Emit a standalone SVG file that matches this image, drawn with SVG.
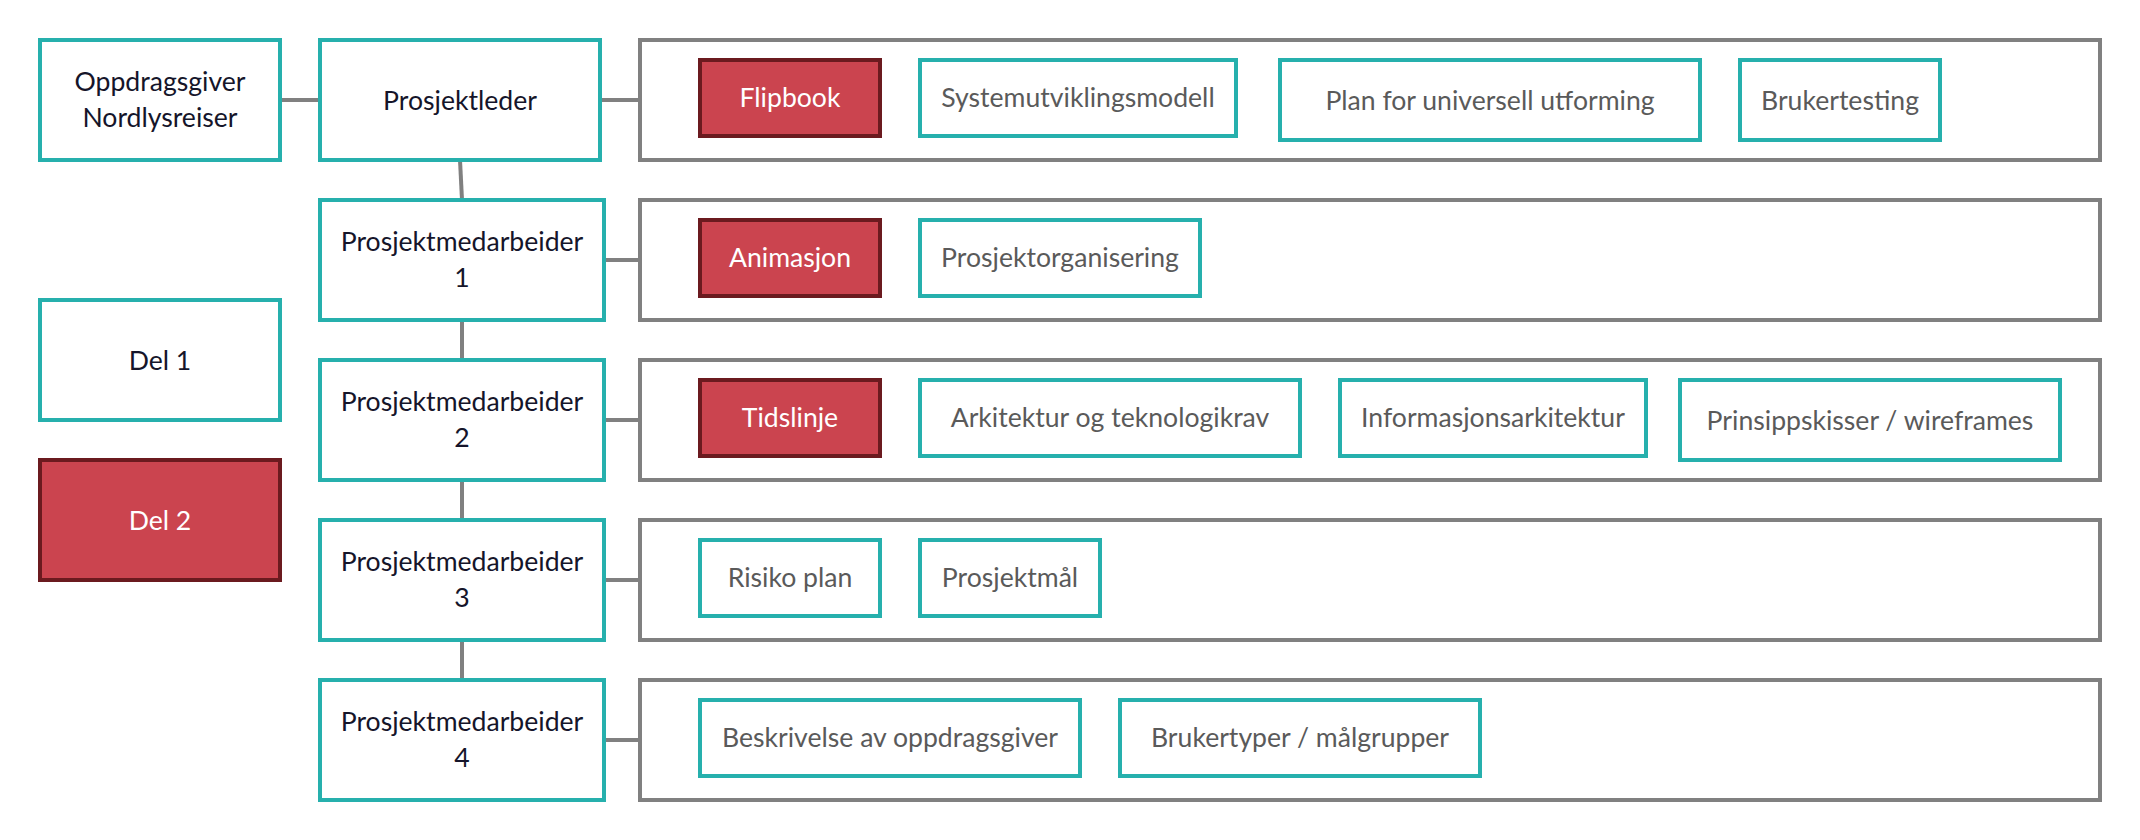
<svg xmlns="http://www.w3.org/2000/svg" width="2140" height="840" viewBox="0 0 2140 840">
<style>
.node{fill:#fff;stroke:#26b0ad;stroke-width:4}
.red{fill:#cb444f;stroke:#6b1a1f;stroke-width:4}
.row{fill:#fff;stroke:#808080;stroke-width:4}
.item{fill:#fff;stroke:#26b0ad;stroke-width:4}
.conn line{stroke:#808080;stroke-width:4}
text{font-family:Lato,"Liberation Sans",sans-serif;font-size:26.6px;text-anchor:middle}
.t{fill:#15152a}
.g{fill:#5a5a5a}
.w{fill:#fff}
</style>
<rect width="2140" height="840" fill="#fff"/>
<g id="connectors" class="conn">
<line x1="280" y1="100" x2="320" y2="100"/>
<line x1="600" y1="100" x2="640" y2="100"/>
<line x1="460" y1="160" x2="462" y2="200"/>
<line x1="462" y1="320" x2="462" y2="360"/>
<line x1="462" y1="480" x2="462" y2="520"/>
<line x1="462" y1="640" x2="462" y2="680"/>
<line x1="604" y1="260" x2="640" y2="260"/>
<line x1="604" y1="420" x2="640" y2="420"/>
<line x1="604" y1="580" x2="640" y2="580"/>
<line x1="604" y1="740" x2="640" y2="740"/>
</g>
<g id="oppdragsgiver"><rect class="node" x="40" y="40" width="240" height="120"/><text class="t" x="160" y="91">Oppdragsgiver</text><text class="t" x="160" y="127">Nordlysreiser</text></g>
<g id="prosjektleder"><rect class="node" x="320" y="40" width="280" height="120"/><text class="t" x="460" y="110">Prosjektleder</text></g>
<g id="pm1"><rect class="node" x="320" y="200" width="284" height="120"/><text class="t" x="462" y="251">Prosjektmedarbeider</text><text class="t" x="462" y="287">1</text></g>
<g id="pm2"><rect class="node" x="320" y="360" width="284" height="120"/><text class="t" x="462" y="411">Prosjektmedarbeider</text><text class="t" x="462" y="447">2</text></g>
<g id="pm3"><rect class="node" x="320" y="520" width="284" height="120"/><text class="t" x="462" y="571">Prosjektmedarbeider</text><text class="t" x="462" y="607">3</text></g>
<g id="pm4"><rect class="node" x="320" y="680" width="284" height="120"/><text class="t" x="462" y="731">Prosjektmedarbeider</text><text class="t" x="462" y="767">4</text></g>
<g id="del1"><rect class="node" x="40" y="300" width="240" height="120"/><text class="t" x="160" y="370">Del 1</text></g>
<g id="del2"><rect class="red" x="40" y="460" width="240" height="120"/><text class="w" x="160" y="530">Del 2</text></g>

<g id="row1"><rect class="row" x="640" y="40" width="1460" height="120"/></g>
<g id="row2"><rect class="row" x="640" y="200" width="1460" height="120"/></g>
<g id="row3"><rect class="row" x="640" y="360" width="1460" height="120"/></g>
<g id="row4"><rect class="row" x="640" y="520" width="1460" height="120"/></g>
<g id="row5"><rect class="row" x="640" y="680" width="1460" height="120"/></g>

<g id="flipbook"><rect class="red" x="700" y="60" width="180" height="76"/><text class="w" x="790" y="107">Flipbook</text></g>
<g id="systemutvikling"><rect class="item" x="920" y="60" width="316" height="76"/><text class="g" x="1078" y="107">Systemutviklingsmodell</text></g>
<g id="universell"><rect class="item" x="1280" y="60" width="420" height="80"/><text class="g" x="1490" y="110">Plan for universell utforming</text></g>
<g id="brukertesting"><rect class="item" x="1740" y="60" width="200" height="80"/><text class="g" x="1840" y="110">Brukertesting</text></g>

<g id="animasjon"><rect class="red" x="700" y="220" width="180" height="76"/><text class="w" x="790" y="267">Animasjon</text></g>
<g id="organisering"><rect class="item" x="920" y="220" width="280" height="76"/><text class="g" x="1060" y="267">Prosjektorganisering</text></g>

<g id="tidslinje"><rect class="red" x="700" y="380" width="180" height="76"/><text class="w" x="790" y="427">Tidslinje</text></g>
<g id="arkitektur"><rect class="item" x="920" y="380" width="380" height="76"/><text class="g" x="1110" y="427">Arkitektur og teknologikrav</text></g>
<g id="infoarkitektur"><rect class="item" x="1340" y="380" width="306" height="76"/><text class="g" x="1493" y="427">Informasjonsarkitektur</text></g>
<g id="prinsippskisser"><rect class="item" x="1680" y="380" width="380" height="80"/><text class="g" x="1870" y="430">Prinsippskisser / wireframes</text></g>

<g id="risiko"><rect class="item" x="700" y="540" width="180" height="76"/><text class="g" x="790" y="587">Risiko plan</text></g>
<g id="prosjektmal"><rect class="item" x="920" y="540" width="180" height="76"/><text class="g" x="1010" y="587">Prosjektmål</text></g>

<g id="beskrivelse"><rect class="item" x="700" y="700" width="380" height="76"/><text class="g" x="890" y="747">Beskrivelse av oppdragsgiver</text></g>
<g id="brukertyper"><rect class="item" x="1120" y="700" width="360" height="76"/><text class="g" x="1300" y="747">Brukertyper / målgrupper</text></g>
</svg>
